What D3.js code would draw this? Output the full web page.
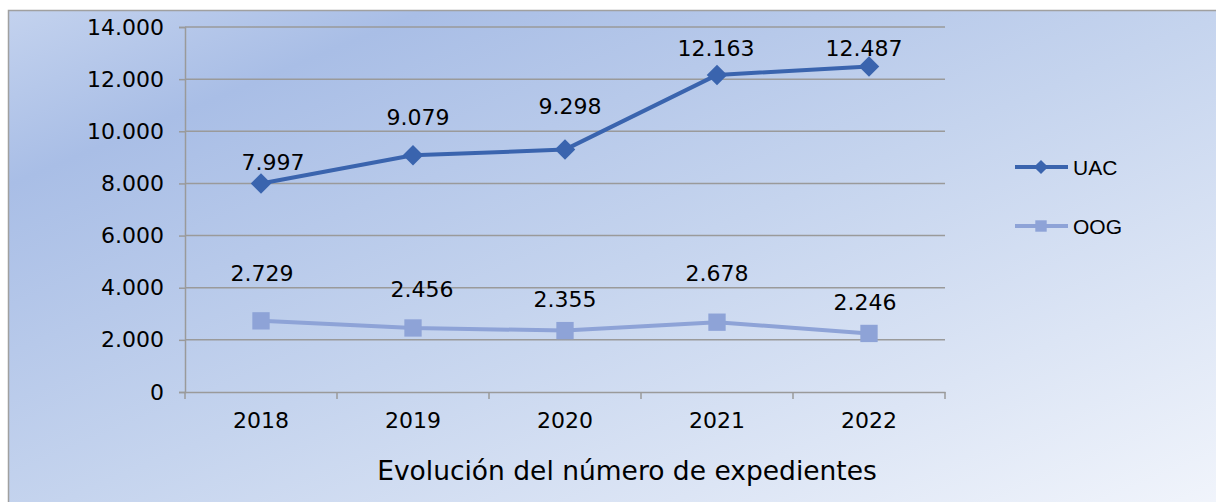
<!DOCTYPE html>
<html>
<head>
<meta charset="utf-8">
<script src="https://cdn.jsdelivr.net/npm/d3@7"></script>
<style>
  html, body { margin: 0; padding: 0; background: #fff; }
  svg { display: block; font-family: "DejaVu Sans", Verdana, sans-serif; }
</style>
</head>
<body>
<svg id="chart" width="1216" height="502"></svg>
<script>
// data
const years = ["2018", "2019", "2020", "2021", "2022"];
const uac = [7997, 9079, 9298, 12163, 12487];
const oog = [2729, 2456, 2355, 2678, 2246];
const yTicks = [0, 2000, 4000, 6000, 8000, 10000, 12000, 14000];
const seriesNames = ["UAC", "OOG"];
const chartTitle = "Evolución del número de expedientes";

// hand-placed label nudges (like the original chart)
const uacLabelNudge = [[12, -21], [5, -38], [5, -44], [-1, -27], [-5, -18]];
const oogLabelNudge = [[1, -48], [9, -39], [0, -32], [0, -49], [-4, -31]];

const W = 1216, H = 502;
const plot = { left: 185, right: 945, top: 27, bottom: 392 };
const FS = 22;

const svg = d3.select("#chart");
const defs = svg.append("defs");

const grad = defs.append("linearGradient")
    .attr("id", "bg")
    .attr("x1", 0).attr("y1", 0).attr("x2", 1).attr("y2", 1);
grad.append("stop").attr("offset", 0).attr("stop-color", "#c3d2ee");
grad.append("stop").attr("offset", 0.17).attr("stop-color", "#a9bee6");
grad.append("stop").attr("offset", 0.5).attr("stop-color", "#c5d4ee");
grad.append("stop").attr("offset", 1).attr("stop-color", "#f3f6fc");

// background + border
svg.append("rect")
    .attr("x", 8.5).attr("y", 10.5)
    .attr("width", W + 10).attr("height", H + 10)
    .attr("fill", "url(#bg)")
    .attr("stroke", "#a0a0a0")
    .attr("stroke-width", 1.5);

const x = d3.scaleBand().domain(years).range([plot.left, plot.right]);
const y = d3.scaleLinear().domain([0, 14000]).range([plot.bottom, plot.top]);
const fmt = d3.formatLocale({ decimal: ",", thousands: ".", grouping: [3], currency: ["", "€"] }).format(",d");

// gridlines
svg.append("g")
    .selectAll("line")
    .data(yTicks.filter(d => d > 0))
    .join("line")
    .attr("x1", plot.left).attr("x2", plot.right)
    .attr("y1", d => y(d)).attr("y2", d => y(d))
    .attr("stroke", "#9a9a9a")
    .attr("stroke-width", 1.5);

// y axis
const yAxis = svg.append("g")
    .attr("transform", `translate(${plot.left},0)`)
    .call(d3.axisLeft(y).tickValues(yTicks).tickFormat(fmt).tickSize(6).tickPadding(15));
yAxis.attr("font-size", FS).attr("font-family", "DejaVu Sans, Verdana, sans-serif");
yAxis.select(".domain").attr("stroke", "#9a9a9a").attr("stroke-width", 1.5);
yAxis.selectAll(".tick line").attr("stroke", "#9a9a9a").attr("stroke-width", 1.5);
yAxis.selectAll(".tick text").attr("fill", "#000");

// x axis
const xAxis = svg.append("g")
    .attr("transform", `translate(0,${plot.bottom})`)
    .call(d3.axisBottom(x).tickSize(0).tickPadding(20));
xAxis.attr("font-size", FS).attr("font-family", "DejaVu Sans, Verdana, sans-serif");
xAxis.select(".domain").attr("stroke", "#9a9a9a").attr("stroke-width", 1.5);
xAxis.selectAll(".tick text").attr("fill", "#000");
// tick marks between categories
xAxis.selectAll(".sep")
    .data(d3.range(years.length + 1))
    .join("line")
    .attr("class", "sep")
    .attr("x1", i => plot.left + i * x.step()).attr("x2", i => plot.left + i * x.step())
    .attr("y1", 0).attr("y2", 7)
    .attr("stroke", "#9a9a9a").attr("stroke-width", 1.5);

const cx = d => x(d) + x.bandwidth() / 2;
const line = d3.line().x((d, i) => cx(years[i])).y(d => y(d));

function drawSeries(values, color, shape, size, nudge) {
    const g = svg.append("g");
    g.append("path")
        .datum(values)
        .attr("d", line)
        .attr("fill", "none")
        .attr("stroke", color)
        .attr("stroke-width", 4)
        .attr("stroke-linejoin", "round");
    g.selectAll(".mk")
        .data(values)
        .join("path")
        .attr("class", "mk")
        .attr("transform", (d, i) => `translate(${cx(years[i])},${y(d)})`)
        .attr("d", d3.symbol().type(shape).size(size))
        .attr("fill", color);
    g.selectAll(".lbl")
        .data(values)
        .join("text")
        .attr("class", "lbl")
        .attr("x", (d, i) => cx(years[i]) + nudge[i][0])
        .attr("y", (d, i) => y(d) + nudge[i][1])
        .attr("dy", "0.36em")
        .attr("text-anchor", "middle")
        .attr("font-size", FS)
        .attr("fill", "#000")
        .text(d => fmt(d));
}

const diamond = {
    draw(ctx, size) {
        const r = Math.sqrt(size / 2);
        ctx.moveTo(0, -r); ctx.lineTo(r, 0); ctx.lineTo(0, r); ctx.lineTo(-r, 0); ctx.closePath();
    }
};

drawSeries(uac, "#3a64ae", diamond, 210, uacLabelNudge);
drawSeries(oog, "#8ea3d7", d3.symbolSquare, 300, oogLabelNudge);

// legend
const legend = svg.append("g");
const legendItems = [
    { name: seriesNames[0], color: "#3a64ae", shape: diamond, size: 100, y: 167 },
    { name: seriesNames[1], color: "#8ea3d7", shape: d3.symbolSquare, size: 130, y: 226 }
];
legendItems.forEach(it => {
    legend.append("line")
        .attr("x1", 1015).attr("x2", 1068)
        .attr("y1", it.y).attr("y2", it.y)
        .attr("stroke", it.color).attr("stroke-width", 4);
    legend.append("path")
        .attr("transform", `translate(1041,${it.y})`)
        .attr("d", d3.symbol().type(it.shape).size(it.size))
        .attr("fill", it.color);
    legend.append("text")
        .attr("x", 1073).attr("y", it.y).attr("dy", "0.36em")
        .attr("font-family", "Liberation Sans, Arial, sans-serif")
        .attr("font-size", 21)
        .attr("fill", "#000")
        .text(it.name);
});

// title at bottom
svg.append("text")
    .attr("x", 627).attr("y", 470).attr("dy", "0.36em")
    .attr("text-anchor", "middle")
    .attr("font-size", 26.5)
    .attr("fill", "#000")
    .text(chartTitle);
</script>
</body>
</html>
